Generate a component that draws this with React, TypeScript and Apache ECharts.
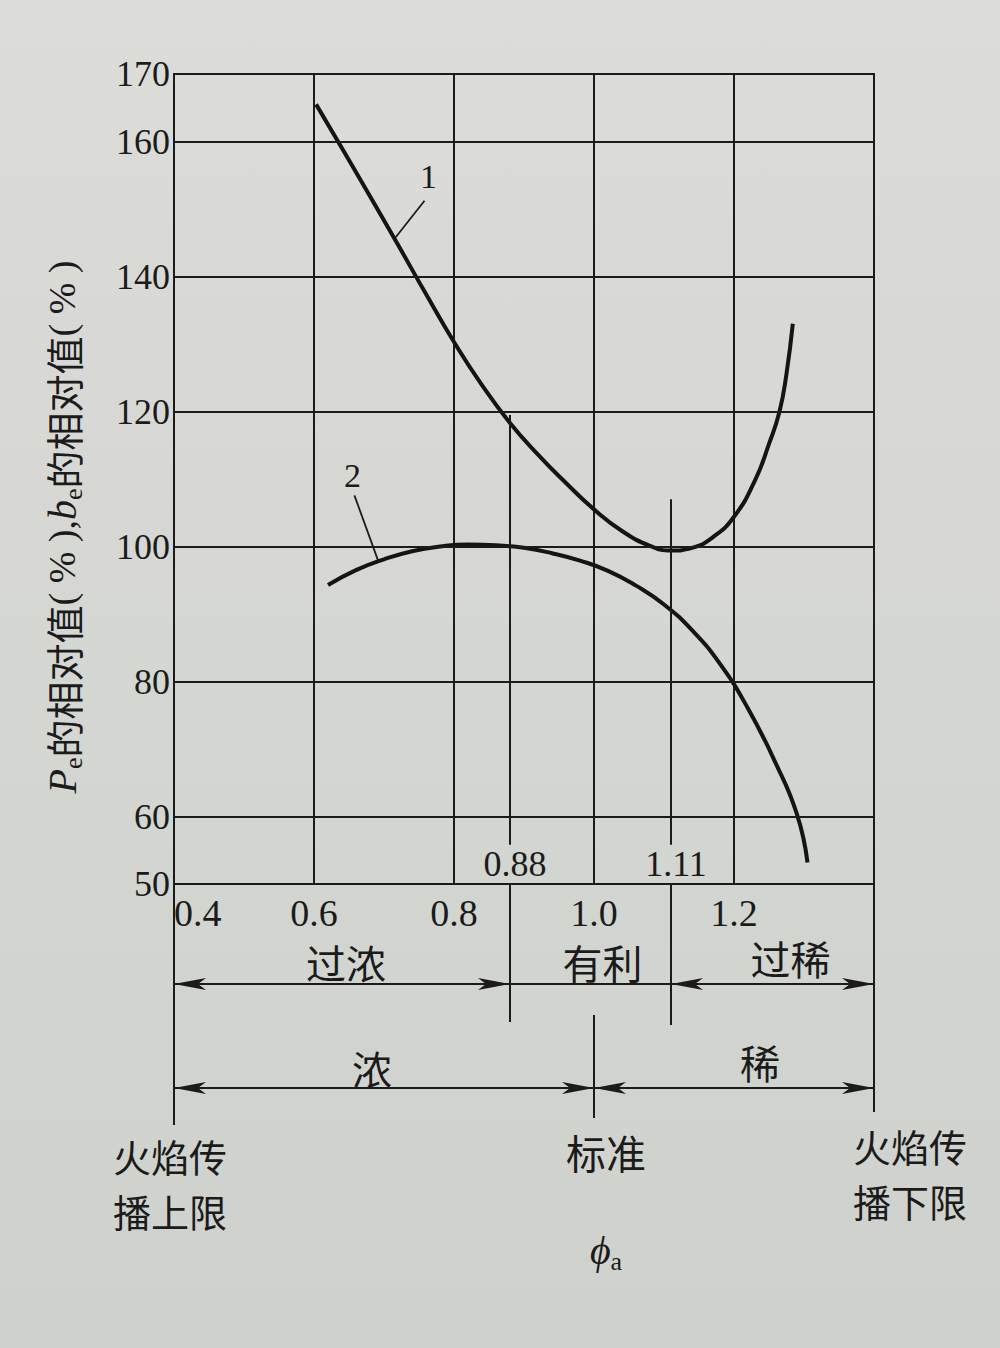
import React, { useEffect, useRef } from 'react';
import * as echarts from 'echarts';

// ---- axes ----
const phiMin = 0.4;
const phiMax = 1.4;
const phiInterval = 0.2;
const xTickLabels = [0.4, 0.6, 0.8, 1.0, 1.2];
const valMin = 50;
const valMax = 170;
const valInterval = 10;
const yTickLabels = [50, 60, 80, 100, 120, 140, 160, 170];
const yGridValues = [60, 80, 100, 120, 140, 160];

// ---- curve 1 ----
const curve1Phi = [0.603, 0.64, 0.68, 0.72, 0.76, 0.8, 0.84, 0.88, 0.92, 0.96, 1.0, 1.04, 1.08, 1.11, 1.14, 1.17, 1.2, 1.23, 1.25, 1.265, 1.275, 1.284];
const curve1Val = [165.5, 159.0, 151.9, 144.7, 137.4, 130.3, 123.9, 118.3, 113.6, 109.4, 105.5, 102.3, 100.1, 99.4, 99.8, 101.4, 104.4, 109.8, 115.2, 120.0, 125.6, 133.0];

// ---- curve 2 ----
const curve2Phi = [0.62, 0.66, 0.7, 0.74, 0.78, 0.82, 0.86, 0.9, 0.94, 0.98, 1.02, 1.06, 1.1, 1.14, 1.18, 1.22, 1.26, 1.29, 1.305];
const curve2Val = [94.3, 96.5, 98.1, 99.3, 100.0, 100.3, 100.2, 99.8, 99.0, 97.9, 96.4, 94.2, 91.4, 87.6, 82.6, 76.0, 67.8, 60.3, 53.2];

// ---- markers ----
const markPhi = [0.88, 1.11];
const markLabels = ['0.88', '1.11'];
const markTopVal = [119.5, 107];
const markBottomVal = 55.8;
const markLabelVal = 52.8;
const standardPhi = 1.0;
const curveLabel1 = { text: '1', phi: 0.715, val: 145.6 };
const curveLabel2 = { text: '2', phi: 0.692, val: 97.8 };
const zoneTop = ['过浓', '有利', '过稀'];
const zoneBottom = ['浓', '稀'];
const standardText = '标准';
const upperLimitText = ['火焰传', '播上限'];
const lowerLimitText = ['火焰传', '播下限'];

const SERIF = '"Liberation Serif", "DejaVu Serif", serif';
const CJK = '"Noto Sans CJK SC", "Noto Sans CJK JP", sans-serif';
const INK = '#1b1b1b';

const near = (a: number, list: number[]) => list.some((v) => Math.abs(v - a) < 1e-6);

export default function App() {
  const ref = useRef<HTMLDivElement>(null);
  useEffect(() => {
    const chart = echarts.init(ref.current as HTMLDivElement, null, { renderer: 'svg' });
    const lineStyle = { color: INK, width: 2, type: 'solid' as const };
    chart.setOption({
      animation: false,
      backgroundColor: 'transparent',
      grid: {
        left: 174, right: 126, top: 74, bottom: 464,
        show: true, borderColor: INK, borderWidth: 2, backgroundColor: 'transparent',
      },
      xAxis: {
        type: 'value', min: phiMin, max: phiMax, interval: phiInterval,
        axisLine: { show: false }, axisTick: { show: false },
        splitLine: { show: true, lineStyle },
        axisLabel: {
          formatter: (v: number) => (near(v, xTickLabels) ? v.toFixed(1) : ''),
          margin: 10, fontFamily: SERIF, fontSize: 38, color: INK,
          alignMinLabel: 'left', showMaxLabel: false,
        },
      },
      yAxis: {
        type: 'value', min: valMin, max: valMax, interval: valInterval,
        axisLine: { show: false }, axisTick: { show: false },
        splitLine: { show: false },
        axisLabel: {
          formatter: (v: number) => (near(v, yTickLabels) ? String(v) : ''),
          margin: 4, fontFamily: SERIF, fontSize: 36, color: INK,
        },
      },
      series: [
        {
          type: 'line', name: 'curve1', showSymbol: false, smooth: 0.5,
          lineStyle: { color: '#141414', width: 4 },
          data: curve1Phi.map((p, i) => [p, curve1Val[i]]),
          markLine: {
            silent: true, symbol: 'none', label: { show: false },
            lineStyle,
            data: [
              ...yGridValues.map((v) => ({ yAxis: v })),
              ...markPhi.map((p, i) => [
                { coord: [p, markTopVal[i]] },
                { coord: [p, markBottomVal] },
              ]),
            ],
          },
        },
        {
          type: 'line', name: 'curve2', showSymbol: false, smooth: 0.5,
          lineStyle: { color: '#141414', width: 4 },
          data: curve2Phi.map((p, i) => [p, curve2Val[i]]),
        },
      ],
    });

    const px = (x: number, y: number) => chart.convertToPixel({ xAxisIndex: 0, yAxisIndex: 0 }, [x, y]) as number[];
    const [xL, yB] = px(phiMin, valMin);
    const [xR] = px(phiMax, valMin);
    const [x088] = px(markPhi[0], valMin);
    const [x111] = px(markPhi[1], valMin);
    const [xStd] = px(standardPhi, valMin);

    const els: any[] = [];
    const seg = (x1: number, y1: number, x2: number, y2: number, w = 2) =>
      els.push({ type: 'line', silent: true, shape: { x1, y1, x2, y2 }, style: { stroke: INK, lineWidth: w } });
    const head = (tipX: number, y: number, dir: number) =>
      els.push({
        type: 'polygon', silent: true,
        shape: { points: [[tipX, y], [tipX - dir * 32, y - 6], [tipX - dir * 24, y], [tipX - dir * 32, y + 6]] },
        style: { fill: INK },
      });
    const dbl = (a: number, b: number, y: number) => {
      seg(a, y, b, y);
      head(a, y, -1);
      head(b, y, 1);
    };
    const txt = (text: string, x: number, y: number, size: number, font = CJK, extra: any = {}) =>
      els.push({
        type: 'text', silent: true, x, y,
        style: { text, fill: INK, fontFamily: font, fontSize: size, textAlign: 'center', textVerticalAlign: 'middle', ...extra },
      });

    // vertical guide lines below the axis
    const row1 = 984;
    const row2 = 1088;
    seg(xL, yB, xL, 1125);
    seg(x088, yB, x088, 1022);
    seg(x111, yB, x111, 1025);
    seg(xStd, 1015, xStd, 1118);
    seg(xR, yB, xR, 1112);

    dbl(xL, x088, row1);
    seg(x088, row1, x111, row1);
    dbl(x111, xR, row1);
    dbl(xL, xStd, row2);
    dbl(xStd, xR, row2);

    // zone labels
    txt(zoneTop[0], (xL + x088) / 2 + 4, 962, 40);
    txt(zoneTop[1], (x088 + x111) / 2 + 12, 962, 40);
    txt(zoneTop[2], (x111 + xR) / 2 + 18, 958, 40);
    txt(zoneBottom[0], (xL + xStd) / 2 - 12, 1068, 40);
    txt(zoneBottom[1], (xStd + xR) / 2 + 26, 1062, 40);
    txt(standardText, xStd + 12, 1152, 40);
    txt(upperLimitText[0], xL - 4, 1155, 38);
    txt(upperLimitText[1], xL - 4, 1210, 38);
    txt(lowerLimitText[0], xR + 36, 1145, 38);
    txt(lowerLimitText[1], xR + 36, 1200, 38);

    // phi_a axis name
    els.push({
      type: 'text', silent: true, x: xStd + 12, y: 1250,
      style: {
        text: '{it|ϕ}{sub|a}', textAlign: 'center', textVerticalAlign: 'middle',
        rich: {
          it: { fontFamily: SERIF, fontStyle: 'italic', fontSize: 40, fill: INK, lineHeight: 48 },
          sub: { fontFamily: SERIF, fontSize: 26, fill: INK, verticalAlign: 'bottom', lineHeight: 48, padding: [16, 0, 0, 0] },
        },
      },
    });

    // marker labels 0.88 / 1.11
    markPhi.forEach((p, i) => {
      const [mx, my] = px(p, markLabelVal);
      txt(markLabels[i], mx + 5, my - 1, 36, SERIF);
    });

    // curve labels with leaders
    {
      const [cx, cy] = px(curveLabel1.phi, curveLabel1.val);
      seg(cx, cy, cx + 30, cy - 38, 1.8);
      txt(curveLabel1.text, cx + 34, cy - 62, 34, SERIF);
      const [dx, dy] = px(curveLabel2.phi, curveLabel2.val);
      seg(dx, dy, dx - 24, dy - 66, 1.8);
      txt(curveLabel2.text, dx - 26, dy - 86, 34, SERIF);
    }

    // y axis title (rotated)
    els.push({
      type: 'text', silent: true, x: 62, y: 527, rotation: Math.PI / 2,
      style: {
        text: '{it|P}{sub|e}{cjk|的相对值}{num|( % )}{num|,}{it|b}{sub|e}{cjk|的相对值}{num|( % )}',
        textAlign: 'center', textVerticalAlign: 'middle',
        rich: {
          it: { fontFamily: SERIF, fontStyle: 'italic', fontSize: 40, fill: INK, lineHeight: 48 },
          sub: { fontFamily: SERIF, fontSize: 26, fill: INK, lineHeight: 48, verticalAlign: 'bottom', padding: [14, 0, 0, 0] },
          cjk: { fontFamily: CJK, fontSize: 38, fill: INK, lineHeight: 48 },
          num: { fontFamily: SERIF, fontSize: 38, fill: INK, lineHeight: 48 },
        },
      },
    });

    chart.setOption({ graphic: els });
    return () => chart.dispose();
  }, []);

  return (
    <div
      ref={ref}
      style={{
        position: 'absolute', left: 0, top: 0, width: 1000, height: 1348,
        background: 'linear-gradient(180deg, #dcdcd9 0%, #d4d6d2 55%, #cfd1cd 100%)',
      }}
    />
  );
}
